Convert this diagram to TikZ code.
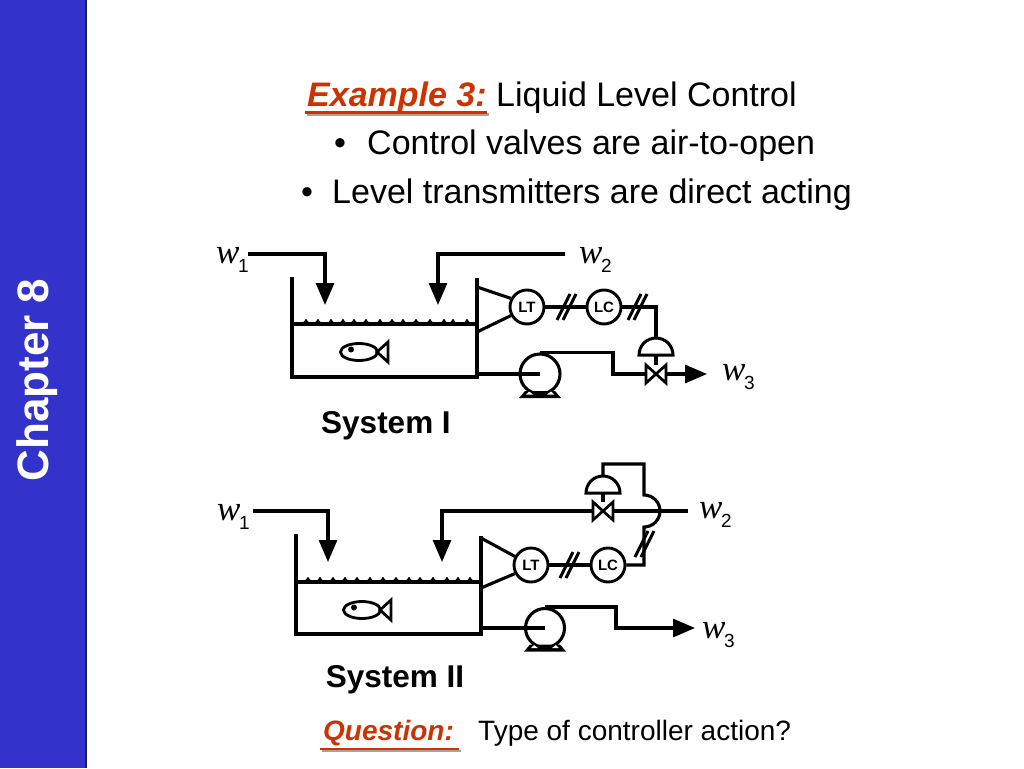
\documentclass[tikz,border=0pt]{standalone}
\usepackage{fontspec}
\setmainfont{Liberation Sans}
\newfontfamily\seriffam{Liberation Serif}
\usetikzlibrary{arrows.meta}
\definecolor{sidebar}{RGB}{51,51,204}
\definecolor{sideedge}{RGB}{25,25,100}
\definecolor{exred}{RGB}{204,51,0}
\definecolor{shadowgray}{RGB}{175,160,160}
\newcommand{\fsz}[1]{\fontsize{#1}{#1}\selectfont}
\newcommand{\wlab}[1]{{\seriffam\itshape\fsz{35}w}\kern-1.5pt\raisebox{-9pt}{\fsz{19}#1}}
\newcommand{\sigslash}[1]{%
  \draw[line width=3pt] ([shift={(-10,13)}]#1) -- ([shift={(3,-13)}]#1);
  \draw[line width=3pt] ([shift={(-4,13)}]#1) -- ([shift={(9,-13)}]#1);}
\newcommand{\pumpbase}[2]{%
  \fill ([shift={(-21,#2+4)}]#1) -- ([shift={(-15,#2-3)}]#1) -- ([shift={(15,#2-3)}]#1) -- ([shift={(21,#2+4)}]#1) -- cycle;
  \fill[white] ([shift={(-14,#2+0.5)}]#1) -- ([shift={(-11,#2-2.5)}]#1) -- ([shift={(-7,#2+0.5)}]#1) -- cycle;
  \fill[white] ([shift={(14,#2+0.5)}]#1) -- ([shift={(11,#2-2.5)}]#1) -- ([shift={(7,#2+0.5)}]#1) -- cycle;}
\newcommand{\valvesym}[1]{%
  \draw[line width=2.7pt, fill=white, line join=miter] ([shift={(-10,-9)}]#1) -- ([shift={(-10,9)}]#1) -- (#1) -- cycle;
  \draw[line width=2.7pt, fill=white, line join=miter] ([shift={(10,-9)}]#1) -- ([shift={(10,9)}]#1) -- (#1) -- cycle;}
\newcommand{\actsym}[1]{%
  \draw[line width=3pt, fill=white] ([xshift=-17pt]#1) arc[start angle=180, end angle=360, radius=17] -- cycle;}
\newcommand{\bumps}[2]{\foreach \bx in {#2} {\fill (\bx-4.5,#1) .. controls (\bx-1.5,#1-1) and (\bx-1.5,#1-5) .. (\bx,#1-5) .. controls (\bx+1.5,#1-5) and (\bx+1.5,#1-1) .. (\bx+4.5,#1) -- cycle;}}
\newcommand{\fishsym}[2]{%
  \draw[line width=2.8pt] (#1,#2) ellipse [x radius=18.5, y radius=8.5];
  \fill (#1-8,#2-2.5) circle [radius=3];
  \draw[line width=2.8pt, line join=miter] (#1+18,#2) -- (#1+29,#2-10) -- (#1+29,#2+10) -- cycle;}
\begin{document}
\begin{tikzpicture}[x=1pt,y=-1pt,
  pipe/.style={line width=3.1pt, line join=miter},
  flowarrow/.style={pipe, -{Triangle[length=22pt,width=18pt]}},
  instr/.style={circle, draw, line width=2.9pt, minimum size=34pt, inner sep=0pt, font=\fsz{15}\bfseries},
  pumpnode/.style={circle, draw, line width=3.1pt, inner sep=0pt},
  wlabel/.style={anchor=base west, inner sep=0pt},
  sysl/.style={anchor=base, inner sep=0pt, font=\fsz{31.5}\bfseries},
  bodytext/.style={anchor=base west, inner sep=0pt, font=\fsz{34}},
]
\useasboundingbox (0,0) rectangle (1024,768);
\fill[white] (0,0) rectangle (1024,768);
% sidebar
\fill[sidebar] (0,0) rectangle (86,768);
\draw[sideedge, line width=1.2pt] (86,0) -- (86,768);
\node[rotate=90, text=white, font=\fsz{44}\bfseries, inner sep=0pt] (chap) at (37,380) {Chapter 8};

% title
\draw[shadowgray, line width=3pt] (307,114) -- (489,114);
\node[bodytext, text=exred, font=\fsz{34}\bfseries\itshape] (ex) at (307,106) {Example 3:};
\draw[exred, line width=3pt] (305,112) -- (487,112);
\node[bodytext] (title) at (496,106) {Liquid Level Control};
\node[anchor=base, inner sep=0pt, font=\fsz{34}] (bul1) at (340,154) {\textbullet};
\node[bodytext] (line1) at (367,154) {Control valves are air-to-open};
\node[anchor=base, inner sep=0pt, font=\fsz{34}] (bul2) at (307,203) {\textbullet};
\node[bodytext] (line2) at (332,203) {Level transmitters are direct acting};

% question
\draw[shadowgray, line width=2.5pt] (322,751) -- (461,751);
\node[anchor=base west, inner sep=0pt, text=exred, font=\fsz{28}\bfseries\itshape] (q) at (323,740) {Question:};
\draw[exred, line width=2.5pt] (320,749) -- (459,749);
\node[anchor=base west, inner sep=0pt, font=\fsz{28}] (qt) at (478,740) {Type of controller action?};

% ================= System I =================
\coordinate (w1s) at (248,254);
\coordinate (in1) at (325,305);
\coordinate (w2e) at (565,254);
\coordinate (in2) at (438,305);
\node[wlabel] (w1l) at (216,263) {\wlab{1}};
\node[wlabel] (w2l) at (579,263) {\wlab{2}};
\node[wlabel] (w3l) at (722,380) {\wlab{3}};
\draw[flowarrow] (w1s) -| (in1);
\draw[flowarrow] (w2e) -| (in2);
\draw[pipe] (292,277) -- (292,377) -- (477,377) -- (477,278);
\draw[pipe] (292,324) -- (477,324);
\bumps{324}{306,318,331,343,354,366,380,392,403,416,430,444,453,467}
\fishsym{359}{352}
\node[instr] (lt1) at (527,307) {LT};
\node[instr] (lc1) at (604,307) {LC};
\draw[pipe] (477,287) -- (lt1.152);
\draw[pipe] (477,332) -- (lt1.208);
\draw[pipe] (lt1) -- (lc1);
\coordinate (s1a) at (567,307);
\sigslash{s1a}
\coordinate (act1) at (656,355);
\coordinate (v1) at (656,374);
\draw[pipe] (lc1) -| ([yshift=17pt]act1);
\coordinate (s1b) at (638,307);
\sigslash{s1b}
\actsym{act1}
\draw[pipe] (act1) -- ([yshift=9pt]v1);
\node[pumpnode, minimum size=40pt] (p1) at (540,374) {};
\coordinate (t1o) at (477,374);
\draw[pipe] (t1o) -- (p1.center);
\pumpbase{p1.center}{20}
\draw[pipe] (p1.north) -- ++(73,0) |- ([xshift=-10pt]v1);
\coordinate (a1) at (707,374);
\draw[flowarrow] ([xshift=10pt]v1) -- (a1);
\valvesym{v1}
\node[sysl] (sys1) at (386,433) {System I};

% ================= System II =================
\coordinate (w1sB) at (253,511);
\coordinate (in1B) at (328,562);
\coordinate (in2B) at (442,562);
\coordinate (v2) at (603,511);
\coordinate (act2) at (603,493);
\coordinate (w2eB) at (688,511);
\node[wlabel] (w1lB) at (217,520) {\wlab{1}};
\node[wlabel] (w2lB) at (699,518) {\wlab{2}};
\node[wlabel] (w3lB) at (702,638) {\wlab{3}};
\draw[flowarrow] (w1sB) -| (in1B);
\draw[flowarrow] ([xshift=-10pt]v2) -| (in2B);
\draw[pipe] ([xshift=10pt]v2) -- (w2eB);
\draw[pipe] (296,534) -- (296,634) -- (481,634) -- (481,536);
\draw[pipe] (296,582) -- (481,582);
\bumps{582}{308,320,333,345,357,370,383,396,409,420,433,447,458,470}
\fishsym{362}{610}
\node[instr] (lt2) at (531,565) {LT};
\node[instr] (lc2) at (608,565) {LC};
\draw[pipe] (481,538) -- (lt2.152);
\draw[pipe] (481,588) -- (lt2.208);
\draw[pipe] (lt2) -- (lc2);
\coordinate (s2a) at (570,565);
\sigslash{s2a}
\coordinate (j2) at (644,527);
\coordinate (top2) at (644,464);
\draw[pipe] (lc2) -| (j2) arc[start angle=90, end angle=-90, radius=16] -- (top2) -| ([yshift=17pt]act2);
\coordinate (s2b) at (645,544);
\sigslash{s2b}
\actsym{act2}
\draw[pipe] (act2) -- ([yshift=9pt]v2);
\valvesym{v2}
\node[pumpnode, minimum size=39pt] (p2) at (545,628) {};
\coordinate (t2o) at (481,628);
\draw[pipe] (t2o) -- (p2.center);
\pumpbase{p2.center}{19.5}
\coordinate (a2) at (695,628);
\draw[flowarrow] (p2.north) -- ++(71,0) |- (a2);
\node[sysl] (sys2) at (395,687) {System II};
\end{tikzpicture}
\end{document}
